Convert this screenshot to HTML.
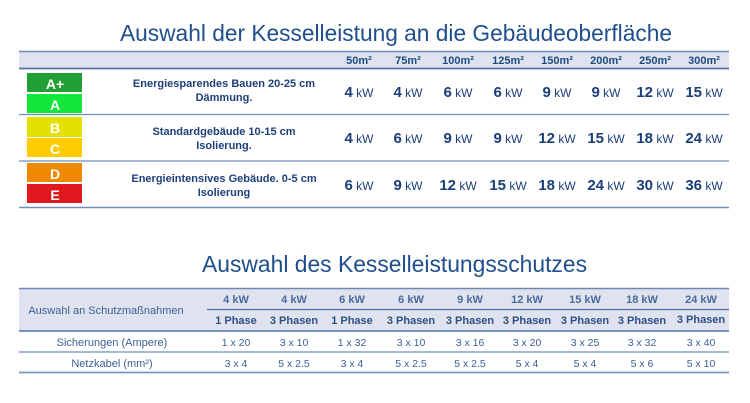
<!DOCTYPE html>
<html>
<head>
<meta charset="utf-8">
<style>
html,body{margin:0;padding:0;background:#fff;}
svg{display:block;}
text{font-family:"Liberation Sans",Arial,sans-serif;}
</style>
</head>
<body>
<svg width="750" height="403" viewBox="0 0 750 403" xmlns="http://www.w3.org/2000/svg">
<rect width="750" height="403" fill="#fff"/>

<!-- Title 1 -->
<text x="120" y="41" font-size="23" fill="#1f4e8c" textLength="552" lengthAdjust="spacingAndGlyphs">Auswahl der Kesselleistung an die Gebäudeoberfläche</text>

<!-- Table 1 header band -->
<rect x="19" y="51" width="710" height="17" fill="#dfe3ef"/>
<line x1="19" y1="51.5" x2="729" y2="51.5" stroke="#6a88b8" stroke-width="1.5"/>
<line x1="19" y1="68.5" x2="729" y2="68.5" stroke="#4f6fa6" stroke-width="1.8"/>
<line x1="19" y1="114.5" x2="729" y2="114.5" stroke="#6f8dbd" stroke-width="1.3"/>
<line x1="19" y1="161" x2="729" y2="161" stroke="#6f8dbd" stroke-width="1.3"/>
<line x1="19" y1="207.5" x2="729" y2="207.5" stroke="#6f8dbd" stroke-width="1.5"/>

<g font-size="11" font-weight="bold" fill="#1e4a82" text-anchor="middle">
<text x="359" y="64">50m²</text>
<text x="408" y="64">75m²</text>
<text x="458" y="64">100m²</text>
<text x="508" y="64">125m²</text>
<text x="557" y="64">150m²</text>
<text x="606" y="64">200m²</text>
<text x="655" y="64">250m²</text>
<text x="704" y="64">300m²</text>
</g>

<!-- Energy labels -->
<g>
<rect x="27" y="73" width="55" height="19" fill="#22a035"/>
<rect x="27" y="94" width="55" height="19" fill="#13e83a"/>
<rect x="27" y="117" width="55" height="20" fill="#e6e000"/>
<rect x="27" y="138" width="55" height="19" fill="#ffcc00"/>
<rect x="27" y="163" width="55" height="19" fill="#ef8a00"/>
<rect x="27" y="184" width="55" height="19" fill="#e0191f"/>
</g>
<g font-size="14" font-weight="bold" fill="#fff" text-anchor="middle">
<text x="55" y="89">A+</text>
<text x="55" y="110">A</text>
<text x="55" y="133">B</text>
<text x="55" y="154">C</text>
<text x="55" y="179">D</text>
<text x="55" y="200">E</text>
</g>

<!-- Descriptions -->
<g font-size="11" font-weight="bold" fill="#1e3f7a" text-anchor="middle">
<text x="224" y="87">Energiesparendes Bauen 20-25 cm</text>
<text x="224" y="101">Dämmung.</text>
<text x="224" y="135">Standardgebäude 10-15 cm</text>
<text x="224" y="149">Isolierung.</text>
<text x="224" y="182">Energieintensives Gebäude. 0-5 cm</text>
<text x="224" y="196">Isolierung</text>
</g>

<!-- Values -->
<g fill="#1b3e78" text-anchor="middle">
<g>
<text x="359" y="97"><tspan font-size="15" font-weight="bold">4</tspan><tspan font-size="12"> kW</tspan></text>
<text x="408" y="97"><tspan font-size="15" font-weight="bold">4</tspan><tspan font-size="12"> kW</tspan></text>
<text x="458" y="97"><tspan font-size="15" font-weight="bold">6</tspan><tspan font-size="12"> kW</tspan></text>
<text x="508" y="97"><tspan font-size="15" font-weight="bold">6</tspan><tspan font-size="12"> kW</tspan></text>
<text x="557" y="97"><tspan font-size="15" font-weight="bold">9</tspan><tspan font-size="12"> kW</tspan></text>
<text x="606" y="97"><tspan font-size="15" font-weight="bold">9</tspan><tspan font-size="12"> kW</tspan></text>
<text x="655" y="97"><tspan font-size="15" font-weight="bold">12</tspan><tspan font-size="12"> kW</tspan></text>
<text x="704" y="97"><tspan font-size="15" font-weight="bold">15</tspan><tspan font-size="12"> kW</tspan></text>
</g>
<g>
<text x="359" y="143"><tspan font-size="15" font-weight="bold">4</tspan><tspan font-size="12"> kW</tspan></text>
<text x="408" y="143"><tspan font-size="15" font-weight="bold">6</tspan><tspan font-size="12"> kW</tspan></text>
<text x="458" y="143"><tspan font-size="15" font-weight="bold">9</tspan><tspan font-size="12"> kW</tspan></text>
<text x="508" y="143"><tspan font-size="15" font-weight="bold">9</tspan><tspan font-size="12"> kW</tspan></text>
<text x="557" y="143"><tspan font-size="15" font-weight="bold">12</tspan><tspan font-size="12"> kW</tspan></text>
<text x="606" y="143"><tspan font-size="15" font-weight="bold">15</tspan><tspan font-size="12"> kW</tspan></text>
<text x="655" y="143"><tspan font-size="15" font-weight="bold">18</tspan><tspan font-size="12"> kW</tspan></text>
<text x="704" y="143"><tspan font-size="15" font-weight="bold">24</tspan><tspan font-size="12"> kW</tspan></text>
</g>
<g>
<text x="359" y="190"><tspan font-size="15" font-weight="bold">6</tspan><tspan font-size="12"> kW</tspan></text>
<text x="408" y="190"><tspan font-size="15" font-weight="bold">9</tspan><tspan font-size="12"> kW</tspan></text>
<text x="458" y="190"><tspan font-size="15" font-weight="bold">12</tspan><tspan font-size="12"> kW</tspan></text>
<text x="508" y="190"><tspan font-size="15" font-weight="bold">15</tspan><tspan font-size="12"> kW</tspan></text>
<text x="557" y="190"><tspan font-size="15" font-weight="bold">18</tspan><tspan font-size="12"> kW</tspan></text>
<text x="606" y="190"><tspan font-size="15" font-weight="bold">24</tspan><tspan font-size="12"> kW</tspan></text>
<text x="655" y="190"><tspan font-size="15" font-weight="bold">30</tspan><tspan font-size="12"> kW</tspan></text>
<text x="704" y="190"><tspan font-size="15" font-weight="bold">36</tspan><tspan font-size="12"> kW</tspan></text>
</g>
</g>

<!-- Title 2 -->
<text x="202" y="272" font-size="23" fill="#1f4e8c" textLength="385" lengthAdjust="spacingAndGlyphs">Auswahl des Kesselleistungsschutzes</text>

<!-- Table 2 -->
<rect x="19" y="288" width="710" height="43" fill="#dfe3ef"/>
<line x1="19" y1="288.5" x2="729" y2="288.5" stroke="#6a88b8" stroke-width="1.6"/>
<line x1="207" y1="309.5" x2="729" y2="309.5" stroke="#4f6fa6" stroke-width="1.3"/>
<line x1="19" y1="331" x2="729" y2="331" stroke="#4f6fa6" stroke-width="1.6"/>
<line x1="19" y1="352" x2="729" y2="352" stroke="#6f8dbd" stroke-width="1.3"/>
<line x1="19" y1="372.5" x2="729" y2="372.5" stroke="#7a97c4" stroke-width="1.8"/>

<text x="106" y="314" font-size="11" fill="#3d5f94" text-anchor="middle">Auswahl an Schutzmaßnahmen</text>

<g font-size="11" font-weight="bold" fill="#4a6a9c" text-anchor="middle">
<text x="236" y="303">4 kW</text>
<text x="294" y="303">4 kW</text>
<text x="352" y="303">6 kW</text>
<text x="411" y="303">6 kW</text>
<text x="470" y="303">9 kW</text>
<text x="527" y="303">12 kW</text>
<text x="585" y="303">15 kW</text>
<text x="642" y="303">18 kW</text>
<text x="701" y="303">24 kW</text>
</g>
<g font-size="11" font-weight="bold" fill="#2f4f85" text-anchor="middle">
<text x="236" y="324">1 Phase</text>
<text x="294" y="324">3 Phasen</text>
<text x="352" y="324">1 Phase</text>
<text x="411" y="324">3 Phasen</text>
<text x="470" y="324">3 Phasen</text>
<text x="527" y="324">3 Phasen</text>
<text x="585" y="324">3 Phasen</text>
<text x="642" y="324">3 Phasen</text>
<text x="701" y="323">3 Phasen</text>
</g>

<g font-size="11" fill="#3d5f94" text-anchor="middle">
<text x="112" y="346">Sicherungen (Ampere)</text>
<text x="112" y="367">Netzkabel (mm²)</text>
</g>
<g font-size="10.5" fill="#3d5f94" text-anchor="middle">
<text x="236" y="346">1 x 20</text>
<text x="294" y="346">3 x 10</text>
<text x="352" y="346">1 x 32</text>
<text x="411" y="346">3 x 10</text>
<text x="470" y="346">3 x 16</text>
<text x="527" y="346">3 x 20</text>
<text x="585" y="346">3 x 25</text>
<text x="642" y="346">3 x 32</text>
<text x="701" y="346">3 x 40</text>

<text x="236" y="367">3 x 4</text>
<text x="294" y="367">5 x 2.5</text>
<text x="352" y="367">3 x 4</text>
<text x="411" y="367">5 x 2.5</text>
<text x="470" y="367">5 x 2.5</text>
<text x="527" y="367">5 x 4</text>
<text x="585" y="367">5 x 4</text>
<text x="642" y="367">5 x 6</text>
<text x="701" y="367">5 x 10</text>
</g>
</svg>
</body>
</html>
